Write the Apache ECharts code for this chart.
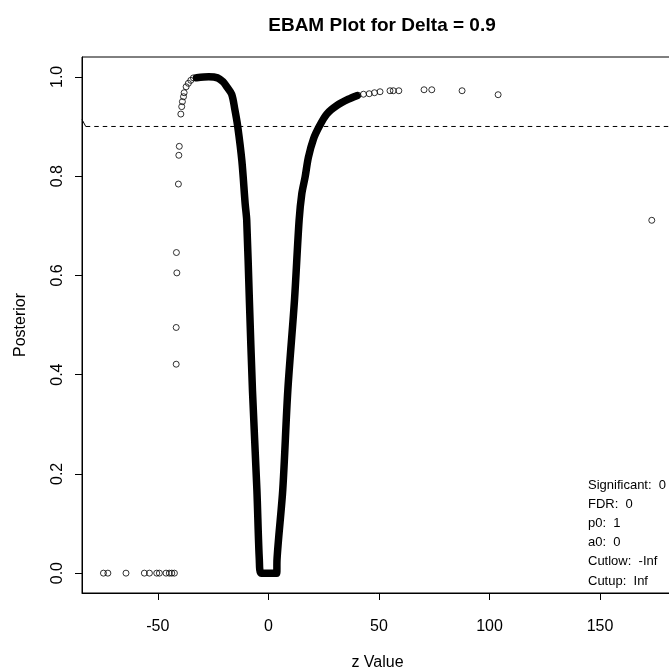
<!DOCTYPE html>
<html style="height: 100%">
<head>
<meta charset="utf-8">
<style type="text/css">
* { margin: 0; padding: 0; }
</style>
</head>
<body style="height: 100%; margin: 0; background: #fff">
<div id="main" style="width: 669px; height: 668px"></div>
<script type="text/javascript" src="https://cdn.jsdelivr.net/npm/echarts@6/dist/echarts.min.js"></script>
<script type="text/javascript">
// dense part of the posterior (drawn as a thick band)
var curveZ = [-32.5, -27, -23, -20.5, -19.1, -16.6, -15.2, -13.9, -12.0, -10.5, -9.8, -8.6, -7.2, -5.2, -4.1, -3.3,
              3.8, 3.9, 6.5, 8.8, 11.8, 13.9, 15.1, 16.6, 18.1, 20.4, 23.1, 26.4, 30.9, 36.2, 40.0];
var curveP = [0.998, 1.0, 0.998, 0.99, 0.982, 0.965, 0.935, 0.901, 0.831, 0.744, 0.711, 0.55, 0.368, 0.168, 0.027, 0,
              0, 0.027, 0.168, 0.369, 0.55, 0.711, 0.764, 0.798, 0.838, 0.875, 0.901, 0.925, 0.942, 0.955, 0.962];

// single open circles
var pointZ = [-74.6, -72.6, -64.4, -56.1, -53.8, -50.5, -49.3, -46.3, -44.8, -43.7, -42.5,
              -41.7, -41.7, -41.4, -41.6, -40.7, -40.5, -40.3, -39.6, -39.2, -38.9, -38.4, -38.1, -37.2, -36.2, -35.1, -33.9,
              40.5, 43.0, 45.6, 48.0, 50.5, 55.0, 56.5, 59.0, 70.4, 73.9, 87.6, 103.9, 173.4];
var pointP = [0, 0, 0, 0, 0, 0, 0, 0, 0, 0, 0,
              0.421, 0.495, 0.605, 0.646, 0.784, 0.842, 0.860, 0.925, 0.94, 0.95, 0.96, 0.968, 0.98, 0.987, 0.993, 0.998,
              0.963, 0.965, 0.966, 0.968, 0.970, 0.972, 0.972, 0.972, 0.974, 0.974, 0.972, 0.964, 0.711];

var delta = 0.9;
var deltaZ = [-82.6, 183];
var edgeZ = [-84.3, -82.6];
var edgeP = [0.914, 0.9];

var xTicks = [-50, 0, 50, 100, 150];
var yTicks = [0, 0.2, 0.4, 0.6, 0.8, 1.0];
var statLines = ['Significant:  0', 'FDR:  0', 'p0:  1', 'a0:  0', 'Cutlow:  -Inf', 'Cutup:  Inf'];

var font = "'Liberation Sans', Arial, sans-serif";

function pairs(xs, ys) {
    var out = [];
    for (var i = 0; i < xs.length; i++) out.push([xs[i], ys[i]]);
    return out;
}

var myChart = echarts.init(document.getElementById('main'));

var stats = [];
for (var i = 0; i < statLines.length; i++) {
    stats.push({
        type: 'text',
        left: 588,
        top: 478.5 + i * 19.2,
        style: { text: statLines[i], fontSize: 13, fontFamily: font, fill: '#000' }
    });
}

var option = {
    backgroundColor: '#fff',
    animation: false,
    title: {
        text: 'EBAM Plot for Delta = 0.9',
        left: 377,
        top: 11,
        textAlign: 'center',
        textStyle: { fontSize: 19, fontWeight: 'bold', fontFamily: font, color: '#000' }
    },
    grid: {
        left: 82, right: -4, top: 57, bottom: 75,
        outerBoundsMode: 'none',
        containLabel: false,
        show: true, borderColor: '#000', borderWidth: 1, backgroundColor: 'transparent'
    },
    xAxis: {
        type: 'value', min: -84.3, max: 183,
        name: 'z Value', nameLocation: 'middle', nameGap: 62,
        nameTextStyle: { fontSize: 16, fontFamily: font, color: '#000' },
        axisLine: { show: true, onZero: false, lineStyle: { color: '#000', width: 1 } },
        splitLine: { show: false },
        axisTick: { show: true, length: 7, inside: false, customValues: xTicks, lineStyle: { color: '#000', width: 1 } },
        axisLabel: { fontSize: 16, fontFamily: font, color: '#000', margin: 26, customValues: xTicks }
    },
    yAxis: {
        type: 'value', min: -0.04, max: 1.04,
        name: 'Posterior', nameLocation: 'middle', nameGap: 53, nameRotate: 90,
        nameTextStyle: { fontSize: 16, fontFamily: font, color: '#000' },
        axisLine: { show: true, onZero: false, lineStyle: { color: '#000', width: 1 } },
        splitLine: { show: false },
        axisTick: { show: true, length: 7, inside: false, customValues: yTicks, lineStyle: { color: '#000', width: 1 } },
        axisLabel: {
            fontSize: 16, fontFamily: font, color: '#000', margin: 16, rotate: 90,
            customValues: yTicks,
            formatter: function (v) { return v.toFixed(1); }
        }
    },
    graphic: stats,
    series: [
        {
            type: 'line',
            data: pairs(deltaZ, [delta, delta]),
            symbol: 'none',
            lineStyle: { color: '#000', width: 1, type: [4.5, 4] },
            z: 1
        },
        {
            type: 'line',
            data: pairs(edgeZ, edgeP),
            symbol: 'none',
            lineStyle: { color: '#000', width: 1 },
            z: 1
        },
        {
            type: 'line',
            data: pairs(curveZ, curveP),
            symbol: 'none',
            smooth: 0.3,
            lineStyle: { color: '#000', width: 7.5, cap: 'round', join: 'round' },
            z: 2
        },
        {
            type: 'scatter',
            data: pairs(pointZ, pointP),
            symbol: 'circle',
            symbolSize: 6,
            itemStyle: { color: 'transparent', borderColor: '#000', borderWidth: 1 },
            z: 3
        }
    ]
};
myChart.setOption(option);
</script>
</body>
</html>
